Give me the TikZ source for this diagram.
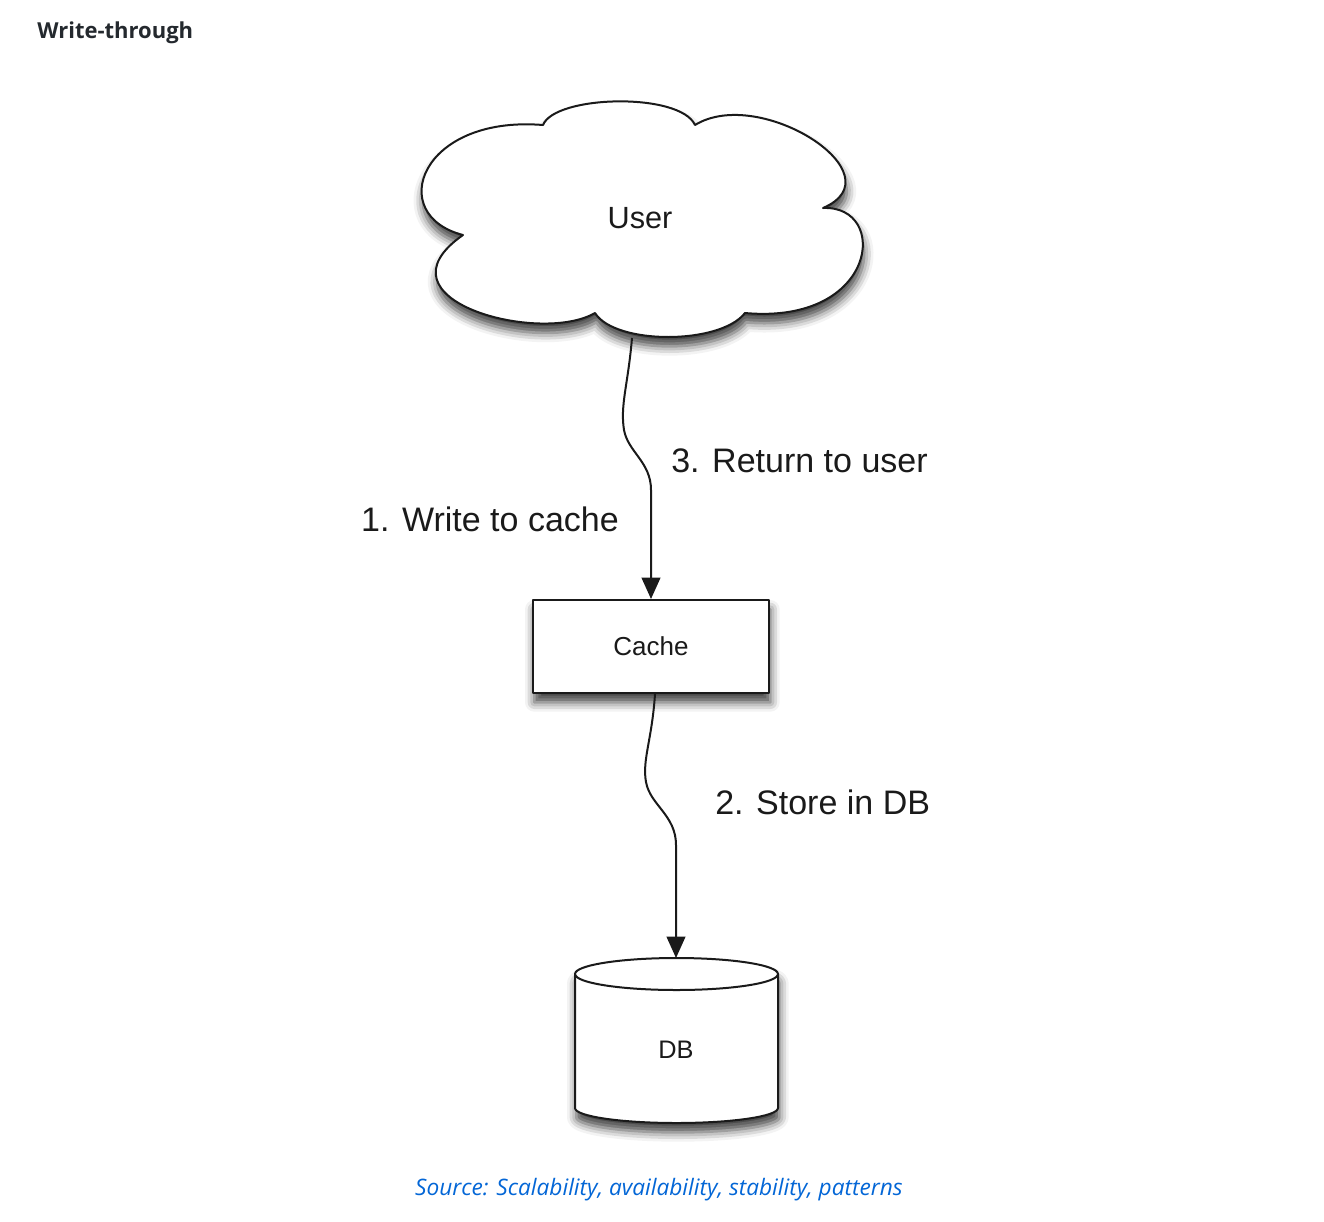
\documentclass[tikz,border=0pt]{standalone}
\usepackage{fontspec}
\setmainfont{Liberation Sans}
\newfontfamily\ghfont{Open Sans}
\usepackage{tikz}
\usetikzlibrary{arrows.meta,shadows.blur}
\definecolor{ghtext}{HTML}{24292E}
\definecolor{ghlink}{HTML}{0366D6}
\definecolor{ink}{HTML}{1A1A1A}

\begin{document}
\begin{tikzpicture}[x=0.75pt,y=-0.75pt,
    box/.style={draw=ink,line width=1.5pt,line join=round,fill=white,
      blur shadow={shadow xshift=1pt,shadow yshift=-7pt,shadow blur radius=7pt,shadow opacity=75}},
    flow/.style={draw=ink,line width=1.5pt,-{Triangle[length=16pt,width=14pt]}},
    lbl/.style={inner sep=0pt,text=ink,font=\fontsize{25.5}{30}\selectfont}]
  \useasboundingbox (0,0) rectangle (1324,1221);
  \node[anchor=west,inner sep=0pt,text=ghtext,font=\ghfont\bfseries\fontsize{16.5}{20}\selectfont] (title) at (37,33) {Write-through};
  % cloud
  \path[box] (543,125) .. controls (555,95) and (680,92) .. (695,125)
    .. controls (760,85) and (900,175) .. (823,208)
    .. controls (890,205) and (878,325) .. (745,313)
    .. controls (720,345) and (615,345) .. (595,313)
    .. controls (540,345) and (370,300) .. (463,235)
    .. controls (385,215) and (420,115) .. cycle;
  \node[text=ink,font=\fontsize{23}{27}\selectfont] (user) at (640,218) {User};
  \coordinate (user-s) at (632,338);
  % cache
  \node[box,minimum width=177pt,minimum height=69.75pt,text=ink,font=\fontsize{19.5}{23}\selectfont] (cache) at (651,646.5) {\raisebox{-2pt}{Cache}};
  % db
  \path[box] (575,974) -- (575,1108) arc[start angle=180,end angle=0,x radius=101.5,y radius=15]
    -- (778,974) arc[start angle=0,end angle=-180,x radius=101.5,y radius=16] -- cycle;
  \draw[draw=ink,line width=1.5pt] (575,974) arc[start angle=180,end angle=0,x radius=101.5,y radius=16];
  \node[text=ink,font=\fontsize{19}{22}\selectfont] (db) at (676,1050) {DB};
  \coordinate (db-top) at (676,958);
  % connectors
  \draw[flow] (user-s) .. controls (628,385) and (620,405) .. (624,430)
    .. controls (628,452) and (651,462) .. (651,490) -- (cache.north);
  \draw[flow] ([xshift=3pt]cache.south) .. controls (652,740) and (642,760) .. (646,782)
    .. controls (650,805) and (676,815) .. (676,845) -- (db-top);
  \node[lbl,anchor=west] (ret) at (671,461) {3. Return to user};
  \node[lbl,anchor=east] (wr) at (619,519) {1. Write to cache};
  \node[lbl,anchor=west] (st) at (715,802) {2. Store in DB};
  \node[text=ghlink,font=\ghfont\itshape\fontsize{17}{20}\selectfont] (src) at (659,1190) {Source: Scalability, availability, stability, patterns};
\end{tikzpicture}
\end{document}
